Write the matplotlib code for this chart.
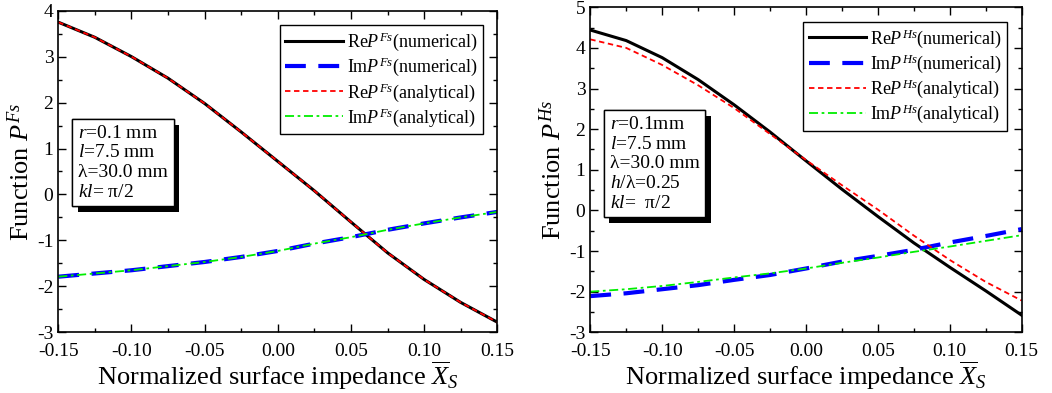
import matplotlib
matplotlib.use("Agg")
import matplotlib.pyplot as plt
import matplotlib.patheffects as pe
from matplotlib.ticker import MultipleLocator, FormatStrFormatter

plt.rcParams['font.family'] = ['Liberation Serif', 'DejaVu Serif']
plt.rcParams['mathtext.fontset'] = 'custom'
plt.rcParams['mathtext.rm'] = 'Liberation Serif'
plt.rcParams['mathtext.it'] = 'Liberation Serif:italic'
plt.rcParams['axes.unicode_minus'] = False

# normalized surface impedance
xs = [-0.15, -0.125, -0.10, -0.075, -0.05, -0.025, 0.0,
      0.025, 0.05, 0.075, 0.10, 0.125, 0.15]

# P^Fs
re_fs_num = [3.75, 3.42, 3.00, 2.53, 1.98, 1.36, 0.72,
             0.08, -0.60, -1.27, -1.85, -2.35, -2.78]
im_fs_num = [-1.79, -1.72, -1.65, -1.56, -1.47, -1.36, -1.23,
             -1.07, -0.93, -0.77, -0.63, -0.50, -0.38]
re_fs_ana = re_fs_num
im_fs_ana = im_fs_num

# P^Hs
re_hs_num = [4.44, 4.18, 3.76, 3.22, 2.60, 1.93, 1.22,
             0.52, -0.15, -0.80, -1.40, -1.98, -2.58]
im_hs_num = [-2.11, -2.04, -1.94, -1.84, -1.71, -1.59, -1.43,
             -1.26, -1.12, -0.97, -0.79, -0.63, -0.46]
re_hs_ana = [4.21, 4.00, 3.58, 3.08, 2.52, 1.88, 1.24,
             0.62, 0.02, -0.62, -1.22, -1.76, -2.22]
im_hs_ana = [-2.00, -1.94, -1.86, -1.76, -1.65, -1.55, -1.43,
             -1.29, -1.16, -1.02, -0.89, -0.75, -0.61]

info_fs = "$r$=0.1 mm\n$l$=7.5 mm\nλ=30.0 mm\n$kl$= π/2"
info_hs = "$r$=0.1mm\n$l$=7.5 mm\nλ=30.0 mm\n$h$/λ=0.25\n$kl$=  π/2"

fig = plt.figure(figsize=(10.52, 3.93), dpi=100)
ax1 = fig.add_axes([0.0554, 0.1545, 0.4173, 0.8183])
ax2 = fig.add_axes([0.5611, 0.1545, 0.4101, 0.8270])


def draw(ax, sup, re_n, im_n, re_a, im_a, ylim, info, info_top):
    ax.plot(xs, re_n, color='black', lw=2.2, label='Re$P^{%s}$(numerical)' % sup)
    ax.plot(xs, im_n, color='#0000ff', lw=3.0, dashes=(5, 3),
            label='Im$P^{%s}$(numerical)' % sup)
    ax.plot(xs, re_a, color='#ff0000', lw=1.3, dashes=(3, 2),
            label='Re$P^{%s}$(analytical)' % sup)
    ax.plot(xs, im_a, color='#00ee00', lw=1.3, dashes=(5, 2, 1.5, 2),
            label='Im$P^{%s}$(analytical)' % sup)
    ax.set_xlim(-0.15, 0.15)
    ax.set_ylim(*ylim)
    ax.xaxis.set_major_locator(MultipleLocator(0.05))
    ax.xaxis.set_minor_locator(MultipleLocator(0.025))
    ax.yaxis.set_major_locator(MultipleLocator(1))
    ax.yaxis.set_minor_locator(MultipleLocator(0.5))
    ax.xaxis.set_major_formatter(FormatStrFormatter('%.2f'))
    ax.tick_params(which='both', direction='in', top=True, right=True,
                   labelsize=14, width=1)
    ax.tick_params(axis='x', pad=7.5)
    ax.tick_params(which='major', length=6)
    ax.tick_params(which='minor', length=3)
    for s in ax.spines.values():
        s.set_linewidth(1.2)
    ax.set_xlabel(r'Normalized surface impedance $\overline{X}_S$',
                  fontsize=19, labelpad=0)
    ax.set_ylabel('Function $P^{%s}$' % sup, fontsize=19, labelpad=2)
    leg = ax.legend(loc='upper right', fontsize=13, fancybox=False,
                    edgecolor='black', framealpha=1, handlelength=3.2,
                    handletextpad=0.2, labelspacing=0.15,
                    borderpad=0.3, borderaxespad=0.8)
    leg.get_frame().set_linewidth(1.0)
    t = ax.text(0.045, info_top, info, transform=ax.transAxes, fontsize=14,
                va='top', ha='left', linespacing=1.2,
                bbox=dict(boxstyle='square,pad=0.3', fc='white',
                          ec='black', lw=1.0))
    t.get_bbox_patch().set_path_effects(
        [pe.withSimplePatchShadow(offset=(4, -4), shadow_rgbFace='black',
                                  alpha=1.0), pe.Normal()])


draw(ax1, 'Fs', re_fs_num, im_fs_num, re_fs_ana, im_fs_ana, (-3, 4),
     info_fs, 0.645)
draw(ax2, 'Hs', re_hs_num, im_hs_num, re_hs_ana, im_hs_ana, (-3, 5),
     info_hs, 0.665)

fig.savefig('out.png', dpi=100)
